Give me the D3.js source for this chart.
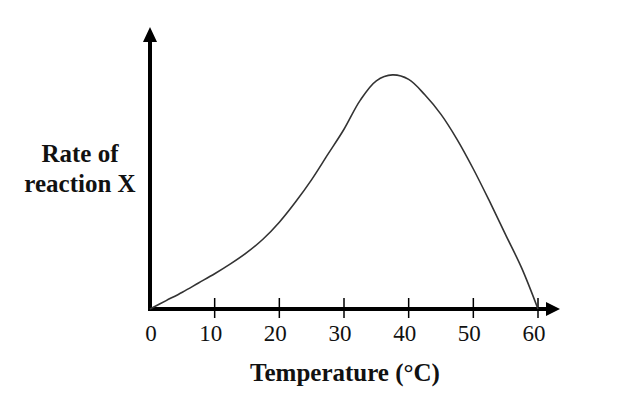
<!DOCTYPE html>
<html>
<head>
<meta charset="utf-8">
<script src="https://cdn.jsdelivr.net/npm/d3@7"></script>
<style>
  body { margin: 0; background: #fff; }
  text { font-family: "Palatino Linotype", "Book Antiqua", Palatino, "Liberation Serif", serif; fill: #111; }
</style>
</head>
<body>
<script>
// Values (rate is in arbitrary units)
const temperature = [0, 2.5, 5, 7.5, 10, 12.5, 15, 17.5, 20, 22.5, 25, 27.5, 30, 32.5, 35, 37.5, 40, 42.5, 45, 47.5, 50, 52.5, 55, 57.5, 60];
const rate        = [0, 3, 6, 9.3, 12.6, 16.2, 20.2, 25, 31, 38.2, 46.2, 55.2, 64.2, 74.5, 81.5, 83.6, 82, 76.5, 69.5, 60.5, 50, 38.5, 26.5, 14.5, 0];
const xTicks = [0, 10, 20, 30, 40, 50, 60];
const xTitle = "Temperature (°C)";
const yTitle = ["Rate of", "reaction X"];

const width = 633, height = 395;

const x = d3.scaleLinear().domain([0, 60]).range([150, 538]);
const y = d3.scaleLinear().domain([0, 100]).range([309, 29]);

const svg = d3.select("body").append("svg")
    .attr("width", width)
    .attr("height", height);

// --- Axes (thick lines with arrow heads) ---
const ox = x(0), oy = y(0);
const xEnd = 560, yEnd = 27;

svg.append("line")
    .attr("x1", ox - 2).attr("y1", oy)
    .attr("x2", xEnd - 12).attr("y2", oy)
    .attr("stroke", "#000").attr("stroke-width", 4);
svg.append("line")
    .attr("x1", ox).attr("y1", oy + 2)
    .attr("x2", ox).attr("y2", yEnd + 12)
    .attr("stroke", "#000").attr("stroke-width", 4);

// arrow heads
svg.append("path")
    .attr("d", `M${xEnd},${oy} L${xEnd - 14},${oy - 7} L${xEnd - 14},${oy + 7} Z`)
    .attr("fill", "#000");
svg.append("path")
    .attr("d", `M${ox},${yEnd} L${ox - 7},${yEnd + 15} L${ox + 7},${yEnd + 15} Z`)
    .attr("fill", "#000");

// ticks crossing the x axis
svg.append("g")
    .selectAll("line")
    .data(xTicks.filter(d => d > 0))
    .join("line")
    .attr("x1", d => x(d)).attr("x2", d => x(d))
    .attr("y1", oy - 11).attr("y2", oy + 9)
    .attr("stroke", "#000").attr("stroke-width", 1.5);

// tick labels
svg.append("g")
    .selectAll("text")
    .data(xTicks)
    .join("text")
    .attr("x", d => x(d) - (d === 0 ? -1 : 4))
    .attr("y", 341)
    .attr("text-anchor", "middle")
    .attr("font-size", 23)
    .text(d => d);

// axis titles
svg.append("text")
    .attr("x", 345)
    .attr("y", 381)
    .attr("text-anchor", "middle")
    .attr("font-size", 25)
    .attr("font-weight", "bold")
    .text(xTitle);

svg.append("g")
    .selectAll("text")
    .data(yTitle)
    .join("text")
    .attr("x", 80)
    .attr("y", (d, i) => 162 + i * 30)
    .attr("text-anchor", "middle")
    .attr("font-size", 25)
    .attr("font-weight", "bold")
    .text(d => d);

// --- The curve ---
const points = temperature.map((t, i) => [t, rate[i]]);
svg.append("path")
    .datum(points)
    .attr("fill", "none")
    .attr("stroke", "#333")
    .attr("stroke-width", 1.6)
    .attr("d", d3.line()
        .x(d => x(d[0]))
        .y(d => y(d[1]))
        .curve(d3.curveCatmullRom.alpha(0.5)));
</script>
</body>
</html>
